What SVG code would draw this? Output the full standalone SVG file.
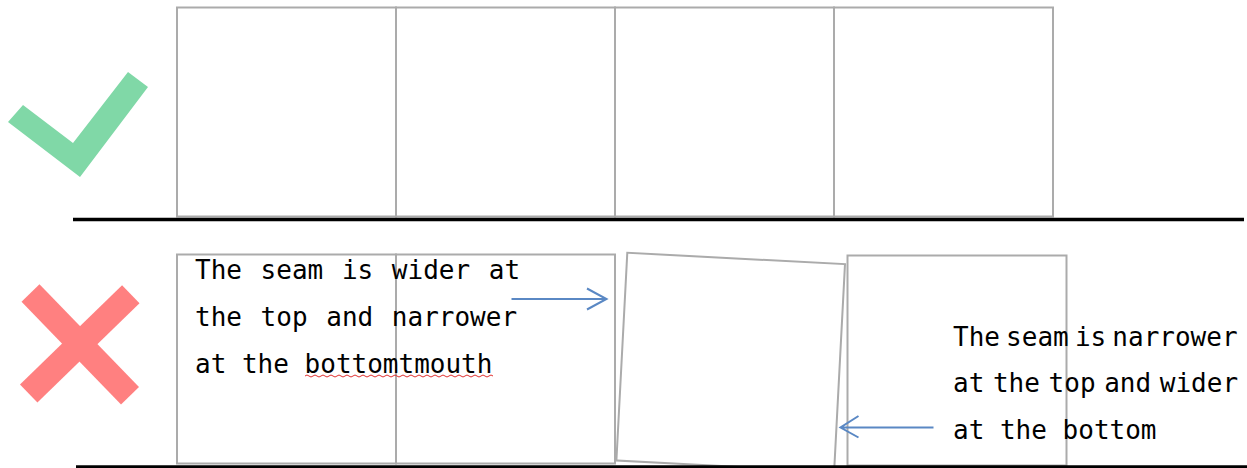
<svg xmlns="http://www.w3.org/2000/svg" width="1247" height="468" viewBox="0 0 1247 468">
<style>
.box{fill:#fff;stroke:#ababab;stroke-width:2}
.rule{stroke:#000;stroke-width:3.5}
.arrow{stroke:#5a88c4;stroke-width:2;fill:none}
.txt{font-family:"DejaVu Sans Mono","Liberation Mono",monospace;font-size:26px;fill:#000}
</style>
<rect width="1247" height="468" fill="#fff"/>
<g id="check"><polygon points="8,122 23,105 73,143 128,72 148,87 80,177" fill="#80d8a7"/></g>
<g id="cross" stroke="#ff8080" stroke-width="25">
<line x1="30.5" y1="293" x2="130" y2="395.8"/>
<line x1="130.8" y1="294.2" x2="28.7" y2="393.5"/>
</g>
<g id="top-row">
<rect id="t1" class="box" x="177" y="7.5" width="219" height="209"/>
<rect id="t2" class="box" x="396" y="7.5" width="219" height="209"/>
<rect id="t3" class="box" x="615" y="7.5" width="219" height="209"/>
<rect id="t4" class="box" x="834" y="7.5" width="219" height="209"/>
</g>
<g id="bottom-row">
<rect id="b1" class="box" x="177" y="254.5" width="219" height="209"/>
<rect id="b2" class="box" x="396" y="254.5" width="219" height="209"/>
<rect id="b3" class="box" x="-109" y="-104" width="218" height="208" transform="translate(730.7,362.3) rotate(3)"/>
<rect id="b4" class="box" x="847.5" y="255.5" width="219" height="210"/>
</g>
<g id="rules">
<line class="rule" x1="73" y1="219.5" x2="1244" y2="219.5"/>
<line class="rule" x1="76" y1="467" x2="1247" y2="467"/>
</g>
<g id="label-left" class="txt">
<text x="195" y="279" word-spacing="3">The seam is wider at</text>
<text x="195" y="326" word-spacing="3">the top and narrower</text>
<text x="195" y="372.5">at the bottomtmouth</text>
<path d="M305,376 q2,-2 4,0 t4,0 t4,0 t4,0 t4,0 t4,0 t4,0 t4,0 t4,0 t4,0 t4,0 t4,0 t4,0 t4,0 t4,0 t4,0 t4,0 t4,0 t4,0 t4,0 t4,0 t4,0 t4,0 t4,0 t4,0 t4,0 t4,0 t4,0 t4,0 t4,0 t4,0 t4,0 t4,0 t4,0 t4,0 t4,0 t4,0 t4,0 t4,0 t4,0 t4,0 t4,0 t4,0 t4,0 t4,0 t4,0 t4,0" fill="none" stroke="#e03030" stroke-width="1"/>
</g>
<g id="label-right" class="txt">
<text x="953" y="346" word-spacing="-9.5">The seam is narrower</text>
<text x="953" y="392" word-spacing="-7">at the top and wider</text>
<text x="953" y="439">at the bottom</text>
</g>
<g id="connectors" class="arrow">
<path d="M511.5,299 H606.5 M587,288.5 L606.5,299 L587,309.5"/>
<path d="M933.5,427.5 H840.5 M858.5,416 L840.5,427.5 L858.5,437.5"/>
</g>
</svg>
